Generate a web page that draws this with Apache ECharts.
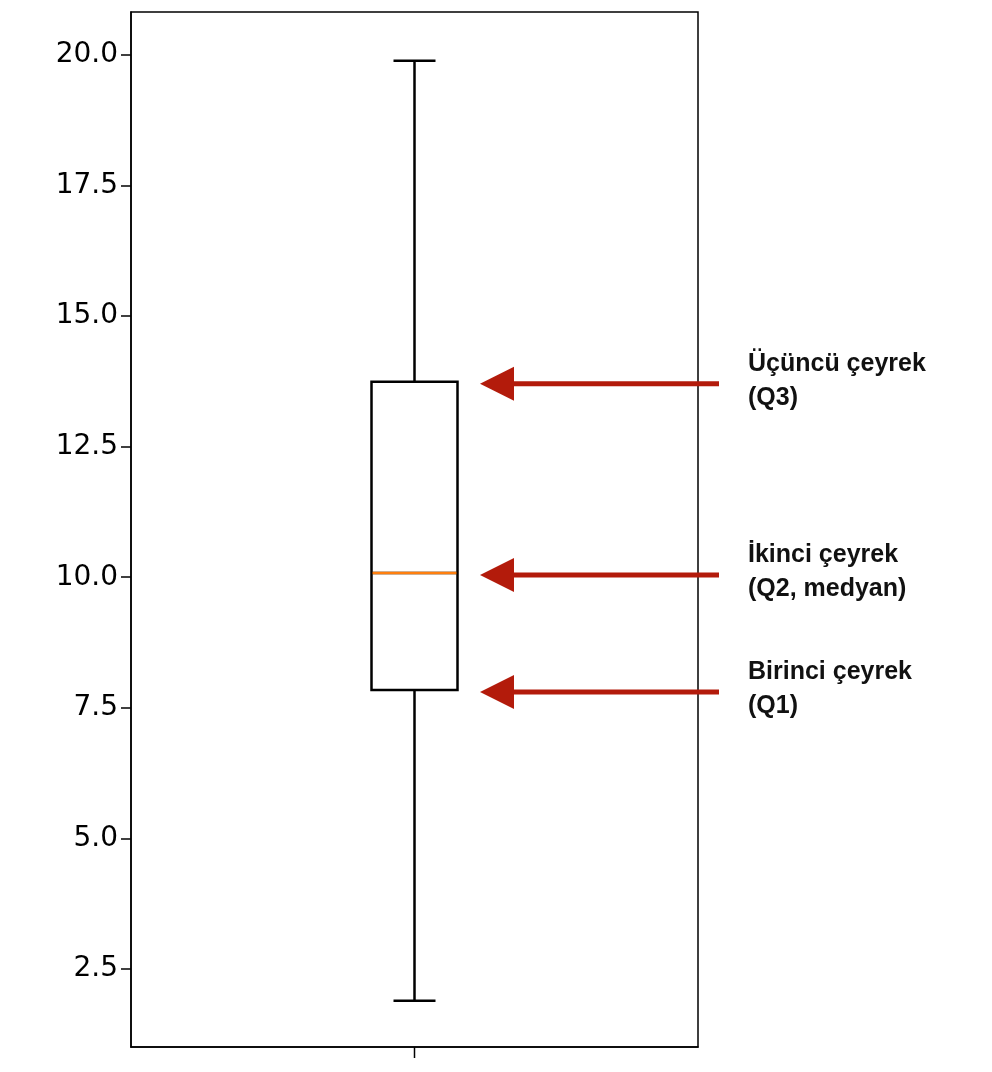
<!DOCTYPE html>
<html><head><meta charset="utf-8">
<script src="https://cdn.jsdelivr.net/npm/echarts@6/dist/echarts.min.js"></script>
<style>html,body{margin:0;background:#fff}#c{width:992px;height:1072px}</style>
</head><body><div id="c"></div>
<script>
const categories = ['A'];
const boxValues = [[1.89, 7.84, 10.08, 13.74, 19.885]];
const tickValues = [2.5, 5, 7.5, 10, 12.5, 15, 17.5, 20];
const notes = [
  {v: 13.74, text: 'Üçüncü çeyrek\n(Q3)'},
  {v: 10.08, text: 'İkinci çeyrek\n(Q2, medyan)'},
  {v: 7.84, text: 'Birinci çeyrek\n(Q1)'}
];
const chart = echarts.init(document.getElementById('c'));
chart.setOption({
  animation: false,
  grid: {left: 131, right: 294, top: 12, bottom: 25, show: true, borderColor: '#000', borderWidth: 1.5},
  xAxis: {type: 'category', data: categories, boundaryGap: true,
    axisLine: {lineStyle: {color: '#000', width: 1.5}},
    axisTick: {show: false},
    axisLabel: {show: false}},
  yAxis: {type: 'value', min: 1.007, max: 20.82, splitLine: {show: false},
    axisLine: {show: true, lineStyle: {color: '#000', width: 1.5}},
    axisTick: {show: true, length: 10, customValues: tickValues, lineStyle: {color: '#000', width: 1.5}},
    axisLabel: {customValues: tickValues, formatter: v => v.toFixed(1), color: '#000',
      fontFamily: 'DejaVu Sans', fontSize: 28, margin: 13}},
  series: [{type: 'boxplot', data: boxValues, boxWidth: [86, 86],
    itemStyle: {color: '#fff', borderColor: '#000', borderWidth: 2.5}}]
});
const cx = chart.convertToPixel({xAxisIndex: 0}, 'A');
const g = [];
const pm = chart.convertToPixel({yAxisIndex: 0}, boxValues[0][2]);
g.push({type: 'line', shape: {x1: cx - 42, y1: pm, x2: cx + 42, y2: pm}, style: {stroke: '#ff7f0e', lineWidth: 2.5}, z: 100});
[boxValues[0][0], boxValues[0][4]].forEach(v => {
  const y = chart.convertToPixel({yAxisIndex: 0}, v);
  g.push({type: 'line', shape: {x1: cx - 46, y1: y, x2: cx - 21, y2: y}, style: {stroke: '#fff', lineWidth: 5}, z: 100});
  g.push({type: 'line', shape: {x1: cx + 21, y1: y, x2: cx + 46, y2: y}, style: {stroke: '#fff', lineWidth: 5}, z: 100});
});
g.push({type: 'line', shape: {x1: cx, y1: 1047, x2: cx, y2: 1058}, style: {stroke: '#000', lineWidth: 1.5}, z: 100});
notes.forEach(n => {
  const y = chart.convertToPixel({yAxisIndex: 0}, n.v) + 2;
  g.push({type: 'line', shape: {x1: 510, y1: y, x2: 719, y2: y}, style: {stroke: '#b31b0b', lineWidth: 5}, z: 100});
  g.push({type: 'polygon', shape: {points: [[480, y], [514, y - 17], [514, y + 17]]}, style: {fill: '#b31b0b'}, z: 100});
  g.push({type: 'text', x: 748, y: y - 37, style: {text: n.text, fontFamily: 'Liberation Sans', fontWeight: 'bold',
    fontSize: 25, lineHeight: 34, fill: '#111'}, z: 100});
});
chart.setOption({graphic: g});
</script></body></html>
